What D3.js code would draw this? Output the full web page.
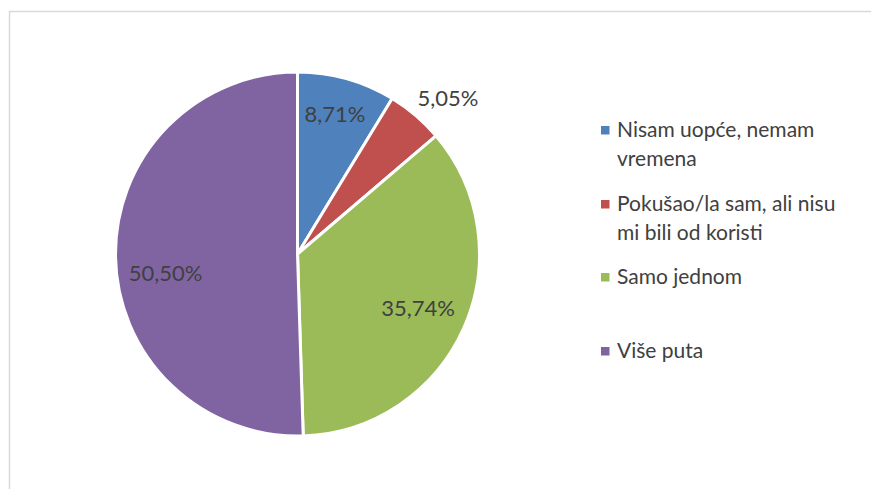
<!DOCTYPE html>
<html>
<head>
<meta charset="utf-8">
<script src="https://cdn.jsdelivr.net/npm/d3@7"></script>
<style>
  body { margin: 0; background: #fff; }
  text { font-family: Lato, "Open Sans", sans-serif; fill: #404040; }
</style>
</head>
<body>
<svg width="871" height="489"></svg>
<script>
var svg = d3.select("svg"),
  width = +svg.attr("width"),
  height = +svg.attr("height");

var categories = ["Nisam uopće, nemam vremena", "Pokušao/la sam, ali nisu mi bili od koristi", "Samo jednom", "Više puta"];
var values = [8.71, 5.05, 35.74, 50.50];
var labels = ["8,71%", "5,05%", "35,74%", "50,50%"];
var legendLines = [["Nisam uopće, nemam", "vremena"], ["Pokušao/la sam, ali nisu", "mi bili od koristi"], ["Samo jednom"], ["Više puta"]];
var colors = ["#4F81BD", "#C0504D", "#9BBB59", "#8064A2"];

// chart border (only left and top visible in frame)
svg.append("rect")
  .attr("x", 9.5).attr("y", 11.5)
  .attr("width", 880).attr("height", 500)
  .attr("fill", "none")
  .attr("stroke", "#d9d9d9")
  .attr("stroke-width", 1.5);

var cx = 297.5, cy = 254, r = 182;

var pie = d3.pie().sort(null).value(function (d) { return d; });
var arc = d3.arc().innerRadius(0).outerRadius(r);
var arcs = pie(values);

var g = svg.append("g").attr("transform", "translate(" + cx + "," + cy + ")");

g.selectAll("path")
  .data(arcs)
  .enter()
  .append("path")
  .attr("d", arc)
  .attr("fill", function (d, i) { return colors[i]; })
  .attr("stroke", "#fff")
  .attr("stroke-width", 3)
  .attr("stroke-linejoin", "round");

// label positions: fraction of radius (outside for the small slice) + small nudges
var labelRad = [0.8, 1.19, 0.7, 0.72];
var labelNudge = [[-2, 0], [10, 9], [4, 3], [-1, 17]];
g.selectAll("text.lbl")
  .data(arcs)
  .enter()
  .append("text")
  .attr("class", "lbl")
  .attr("transform", function (d, i) {
    var a = (d.startAngle + d.endAngle) / 2;
    var rr = r * labelRad[i];
    return "translate(" + (Math.sin(a) * rr + labelNudge[i][0]) + "," + (-Math.cos(a) * rr + labelNudge[i][1]) + ")";
  })
  .attr("text-anchor", "middle")
  .attr("dy", "0.35em")
  .style("font-size", "22px")
  .text(function (d, i) { return labels[i]; });

// legend
var legendY = [137, 211, 284, 358];
var legend = svg.append("g").attr("transform", "translate(601,0)");
var items = legend.selectAll("g")
  .data(categories)
  .enter()
  .append("g")
  .attr("transform", function (d, i) { return "translate(0," + legendY[i] + ")"; });

items.append("rect")
  .attr("x", 0).attr("y", -11)
  .attr("width", 8.5).attr("height", 8.5)
  .attr("fill", function (d, i) { return colors[i]; });

items.each(function (d, i) {
  var t = d3.select(this).append("text")
    .attr("x", 16)
    .style("font-size", "21px");
  legendLines[i].forEach(function (line, j) {
    t.append("tspan")
      .attr("x", 16)
      .attr("y", j * 28.5)
      .text(line);
  });
});
</script>
</body>
</html>
